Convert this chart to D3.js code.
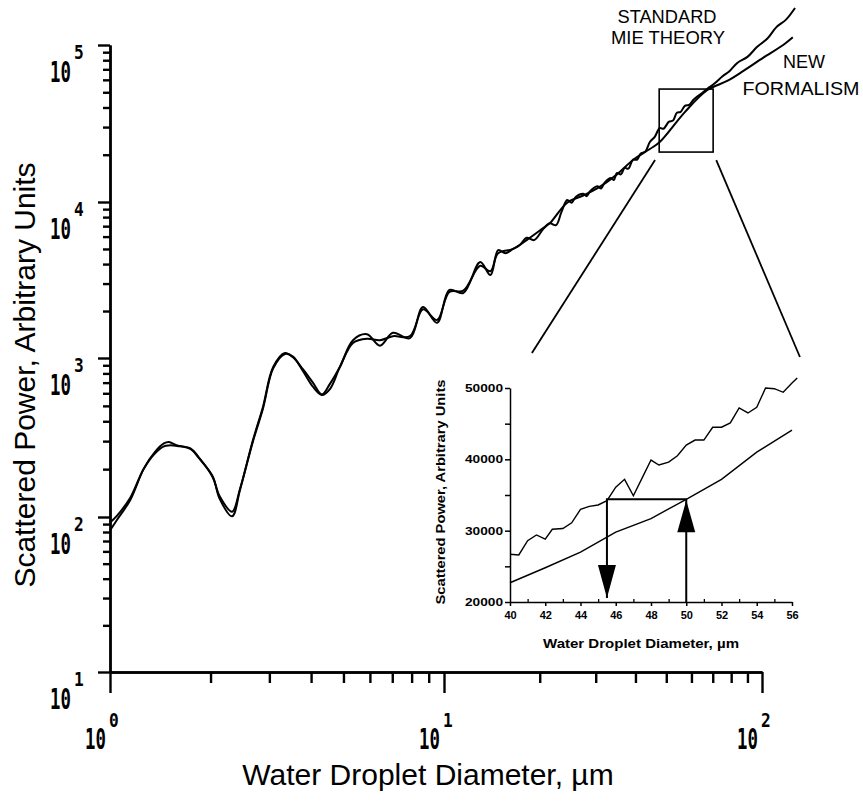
<!DOCTYPE html>
<html>
<head>
<meta charset="utf-8">
<script src="https://cdn.jsdelivr.net/npm/d3@7"></script>
<style>
  body { margin: 0; background: #fff; }
  svg { display: block; }
</style>
</head>
<body>
<div id="chart"></div>
<script>
// main plot: scattered power vs droplet diameter (log-log)
const mieDiam = [1.00, 1.05, 1.15, 1.26, 1.36, 1.45, 1.50, 1.59, 1.74, 1.86, 2.03, 2.13, 2.32, 2.45, 2.68, 2.87,
  3.08, 3.34, 3.53, 3.78, 4.05, 4.31, 4.56, 4.88, 5.34, 5.88, 6.43, 7.03, 7.91, 8.65, 9.53, 10.4, 11.5, 13.0,
  14.0, 14.8, 15.6, 16.5, 17.3, 18.2, 19.2, 20.5, 21.5, 22.5, 23.4, 24.4, 25.2, 26.0, 27.4, 28.1, 28.8, 30.3,
  31.2, 32.0, 33.5, 34.2, 35.0, 36.0, 37.0, 38.0, 39.3, 40.5, 41.5, 43.0, 44.4, 46.0, 47.7, 49.0, 51.0, 52.5,
  54.0, 55.5, 57.2, 59.0, 61.0, 64.0, 67.2, 71.0, 75.0, 79.0, 83.6, 90.0, 96.4, 104, 111, 119, 127]
const mieVals = [82, 96, 128, 200, 255, 290, 296, 282, 268, 230, 180, 130, 101, 148, 305, 492,
  878, 1077, 1010, 850, 700, 590, 690, 880, 1300, 1420, 1200, 1450, 1340, 2120, 1680, 2730, 2610, 4120,
  3400, 4920, 4700, 5000, 5300, 5900, 5700, 6700, 7300, 7100, 8600, 10300, 9900, 10800, 11300, 10900, 11700, 12600,
  12200, 13300, 14200, 13800, 15300, 15000, 16500, 16300, 18600, 18600, 20300, 21000, 24100, 26000, 29600, 29300, 32500, 33000,
  37000, 37500, 41000, 41500, 45000, 48500, 52500, 57000, 63000, 68000, 76900, 84000, 97000, 110000, 130000, 145000, 172000]

const newDiam = [1.00, 1.05, 1.15, 1.26, 1.36, 1.45, 1.50, 1.59, 1.74, 1.86, 2.03, 2.13, 2.32, 2.45, 2.68, 2.87,
  3.08, 3.34, 3.53, 3.78, 4.05, 4.31, 4.56, 4.88, 5.34, 5.88, 6.43, 7.03, 7.91, 8.65, 9.53, 10.4, 11.5, 13.0,
  14.0, 14.8, 16.5, 18.2, 20.5, 21.5, 24.4, 27.4, 30.3, 35.0, 39.3, 44.4, 47.7, 57.2, 67.2, 77.7, 87.4, 100.7,
  116.6, 125]
const newVals = [92, 102, 132, 200, 250, 278, 282, 280, 270, 232, 178, 135, 108, 150, 300, 480,
  860, 1060, 1020, 830, 660, 585, 640, 880, 1250, 1330, 1300, 1380, 1380, 2050, 1750, 2650, 2700, 3900,
  3600, 4700, 5000, 5700, 6800, 7300, 9900, 11000, 12200, 15000, 18500, 21750, 24100, 37400, 51500, 59000, 68400, 82800,
  100000, 112000]

const xDecades = [1, 10, 100]
const yDecades = [10, 100, 1000, 10000, 100000]
const xExponents = ["0", "1", "2"]
const yExponents = ["1", "2", "3", "4", "5"]

// inset: zoomed linear view
const insetMieDiam = [40, 40.5, 41, 41.5, 42, 42.4, 43, 43.5, 44, 44.5, 45, 45.5, 46, 46.5, 47, 47.5, 48, 48.45,
  49, 49.5, 50, 50.5, 51, 51.5, 52, 52.5, 53, 53.5, 54, 54.5, 55, 55.5, 56, 56.3]
const insetMieVals = [26700, 26600, 28600, 29400, 28800, 30200, 30300, 31100, 33000, 33400, 33600, 34200, 36100,
  37200, 34900, 37400, 39900, 39200, 39600, 40500, 42000, 42700, 42700, 44500, 44500, 45100, 47200, 46500, 47300,
  50000, 49900, 49400, 50700, 51400]
const insetNewDiam = [40, 42, 44, 46, 48, 50, 52, 54, 56]
const insetNewVals = [22700, 24800, 27000, 29800, 31700, 34400, 37200, 41000, 44100]
const insetXTicks = [40, 42, 44, 46, 48, 50, 52, 54, 56]
const insetYTicks = [20000, 25000, 30000, 35000, 40000, 45000, 50000]

// read-off arrows in the inset: same power, two diameters
const arrowPower = 34400
const arrowDiam = [45.5, 50]

// zoom box on the main plot and the lines that lead to the inset
const zoomBoxDiam = [47.5, 70.2]
const zoomBoxVals = [20800, 52400]
const leaderFrom = [[46.1, 18500], [71.8, 18500]]
const leaderTo = [[18.9, 1077], [131.6, 1015]]

const W = 863, H = 801
const font = "'Liberation Sans', Arial, Helvetica, sans-serif"
const plotFont = "'DejaVu Sans Mono', monospace"

const svg = d3.select("#chart").append("svg")
  .attr("width", W).attr("height", H)
  .attr("viewBox", `0 0 ${W} ${H}`)

svg.append("rect").attr("width", W).attr("height", H).attr("fill", "#fff")

// scanned original is slightly uneven per decade, so piecewise log scales
const x = d3.scaleLog().domain(xDecades).range([110, 444, 762])
const y = d3.scaleLog().domain(yDecades).range([672, 517, 358, 202, 45])

const minorOf = decs => decs.slice(0, -1).flatMap(d => d3.range(2, 10).map(m => m * d))

function styleAxis(g, w) {
  g.selectAll("path, line").attr("stroke", "#000").attr("stroke-width", w)
  g.selectAll("text").remove()
}

// x axis
const gx = svg.append("g").attr("transform", `translate(0,${y(10)})`)
gx.call(d3.axisBottom(x).tickValues(minorOf(xDecades)).tickSize(11).tickSizeOuter(0).tickFormat(""))
styleAxis(gx, 2.4)
const gxMaj = svg.append("g").attr("transform", `translate(0,${y(10)})`)
gxMaj.call(d3.axisBottom(x).tickValues(xDecades).tickSize(21).tickSizeOuter(0).tickFormat(""))
styleAxis(gxMaj, 2.4)

// y axis
const gy = svg.append("g").attr("transform", `translate(${x(1)},0)`)
gy.call(d3.axisLeft(y).tickValues(minorOf(yDecades)).tickSize(7).tickSizeOuter(0).tickFormat(""))
styleAxis(gy, 2.4)
const gyMaj = svg.append("g").attr("transform", `translate(${x(1)},0)`)
gyMaj.call(d3.axisLeft(y).tickValues(yDecades).tickSize(12).tickSizeOuter(0).tickFormat(""))
styleAxis(gyMaj, 2.4)

// "10" with superscript, plotter style (narrow glyphs via horizontal squeeze)
function powLabel(px, baseY, supY, exp, anchorRight) {
  svg.append("text")
    .attr("transform", `translate(${anchorRight},${baseY}) scale(0.62,1)`)
    .attr("text-anchor", "end")
    .attr("font-family", plotFont).attr("font-weight", "bold").attr("font-size", 28)
    .text("10")
  svg.append("text")
    .attr("transform", `translate(${px},${supY}) scale(0.85,1)`)
    .attr("font-family", plotFont).attr("font-weight", "bold").attr("font-size", 19)
    .text(exp)
}

yDecades.forEach((d, i) => powLabel(74, y(d) + 37, y(d) + 14, yExponents[i], 71))
xDecades.forEach((d, i) => powLabel(x(d) - 1, 749, 727, xExponents[i], x(d) - 4))

// axis titles
svg.append("text")
  .attr("x", 428).attr("y", 785)
  .attr("text-anchor", "middle")
  .attr("font-family", font).attr("font-size", 30)
  .text("Water Droplet Diameter, \u00b5m")
svg.append("text")
  .attr("transform", "translate(35,375) rotate(-90)")
  .attr("text-anchor", "middle")
  .attr("font-family", font).attr("font-size", 30)
  .text("Scattered Power, Arbitrary Units")

// curves
const line = d3.line()
  .x(d => x(d[0])).y(d => y(d[1]))
  .curve(d3.curveCatmullRom.alpha(0.5))

svg.append("path")
  .datum(d3.zip(mieDiam, mieVals))
  .attr("fill", "none").attr("stroke", "#000").attr("stroke-width", 2)
  .attr("d", line)
svg.append("path")
  .datum(d3.zip(newDiam, newVals))
  .attr("fill", "none").attr("stroke", "#000").attr("stroke-width", 2)
  .attr("d", line)

// curve labels
const labels = [
  {t: "STANDARD", x: 667, y: 23, w: 99},
  {t: "MIE THEORY", x: 668, y: 44, w: 114},
  {t: "NEW", x: 804, y: 68, w: 42},
  {t: "FORMALISM", x: 801, y: 95, w: 117}
]
svg.selectAll(".lab").data(labels).enter().append("text")
  .attr("class", "lab")
  .attr("x", d => d.x - d.w / 2).attr("y", d => d.y)
  .attr("font-family", font).attr("font-size", 18)
  .attr("textLength", d => d.w).attr("lengthAdjust", "spacingAndGlyphs")
  .text(d => d.t)

// zoom box + leader lines
svg.append("rect")
  .attr("x", x(zoomBoxDiam[0])).attr("y", y(zoomBoxVals[1]))
  .attr("width", x(zoomBoxDiam[1]) - x(zoomBoxDiam[0]))
  .attr("height", y(zoomBoxVals[0]) - y(zoomBoxVals[1]))
  .attr("fill", "none").attr("stroke", "#000").attr("stroke-width", 1.6)
svg.selectAll(".lead").data(d3.zip(leaderFrom, leaderTo)).enter().append("line")
  .attr("class", "lead")
  .attr("x1", d => x(d[0][0])).attr("y1", d => y(d[0][1]))
  .attr("x2", d => x(d[1][0])).attr("y2", d => y(d[1][1]))
  .attr("stroke", "#000").attr("stroke-width", 1.8)

// ---------------- inset ----------------
const xi = d3.scaleLinear().domain([40, 56]).range([510, 792])
const yi = d3.scaleLinear().domain([20000, 50000]).range([602, 388])

const gix = svg.append("g").attr("transform", `translate(0,${yi(20000)})`)
gix.call(d3.axisBottom(xi).tickValues(insetXTicks).tickSize(4).tickSizeOuter(0).tickFormat(d3.format("d")))
gix.selectAll("path, line").attr("stroke", "#000").attr("stroke-width", 1.5)
gix.selectAll("text")
  .attr("font-family", font).attr("font-weight", "bold").attr("font-size", 11)
  .attr("fill", "#000").attr("dy", "0.9em")
const gixMin = svg.append("g").attr("transform", `translate(0,${yi(20000)})`)
gixMin.call(d3.axisBottom(xi).tickValues(d3.range(41, 56, 1).filter(v => v % 2)).tickSize(-3).tickSizeOuter(0).tickFormat(""))
gixMin.selectAll("path, line").attr("stroke", "#000").attr("stroke-width", 1.3)
gixMin.select("path").remove()

const giy = svg.append("g").attr("transform", `translate(${xi(40)},0)`)
giy.call(d3.axisLeft(yi).tickValues(insetYTicks).tickSize(5).tickSizeOuter(0)
  .tickFormat(d => d % 10000 === 0 ? d : ""))
giy.selectAll("path, line").attr("stroke", "#000").attr("stroke-width", 1.5)
giy.selectAll("text")
  .attr("font-family", font).attr("font-weight", "bold").attr("font-size", 11)
  .attr("fill", "#000").attr("x", -7)
  .filter(d => d % 10000 === 0)
  .attr("textLength", 38).attr("lengthAdjust", "spacingAndGlyphs")

svg.append("text")
  .attr("x", 641).attr("y", 648)
  .attr("text-anchor", "middle")
  .attr("font-family", font).attr("font-weight", "bold").attr("font-size", 13)
  .attr("textLength", 196).attr("lengthAdjust", "spacingAndGlyphs")
  .text("Water Droplet Diameter, \u00b5m")
svg.append("text")
  .attr("transform", "translate(445,492) rotate(-90)")
  .attr("text-anchor", "middle")
  .attr("font-family", font).attr("font-weight", "bold").attr("font-size", 13)
  .attr("textLength", 225).attr("lengthAdjust", "spacingAndGlyphs")
  .text("Scattered Power, Arbitrary Units")

const iline = d3.line().x(d => xi(d[0])).y(d => yi(d[1]))
svg.append("path")
  .datum(d3.zip(insetMieDiam, insetMieVals))
  .attr("fill", "none").attr("stroke", "#000").attr("stroke-width", 1.4)
  .attr("d", iline)
svg.append("path")
  .datum(d3.zip(insetNewDiam, insetNewVals))
  .attr("fill", "none").attr("stroke", "#000").attr("stroke-width", 1.4)
  .attr("d", iline)

// read-off arrows
const ay = yi(arrowPower), a0 = yi(20000)
svg.append("path")
  .attr("d", `M${xi(arrowDiam[1])},${a0}V${ay}H${xi(arrowDiam[0])}V${a0 - 4}`)
  .attr("fill", "none").attr("stroke", "#000").attr("stroke-width", 2)
const headW = 9, headH = 33
svg.append("path") // down head
  .attr("d", `M${xi(arrowDiam[0]) - headW},${a0 - headH - 4}L${xi(arrowDiam[0]) + headW},${a0 - headH - 4}L${xi(arrowDiam[0])},${a0 - 4}Z`)
  .attr("fill", "#000")
svg.append("path") // up head
  .attr("d", `M${xi(arrowDiam[1]) - headW},${ay + headH}L${xi(arrowDiam[1]) + headW},${ay + headH}L${xi(arrowDiam[1])},${ay + 1}Z`)
  .attr("fill", "#000")
</script>
</body>
</html>
